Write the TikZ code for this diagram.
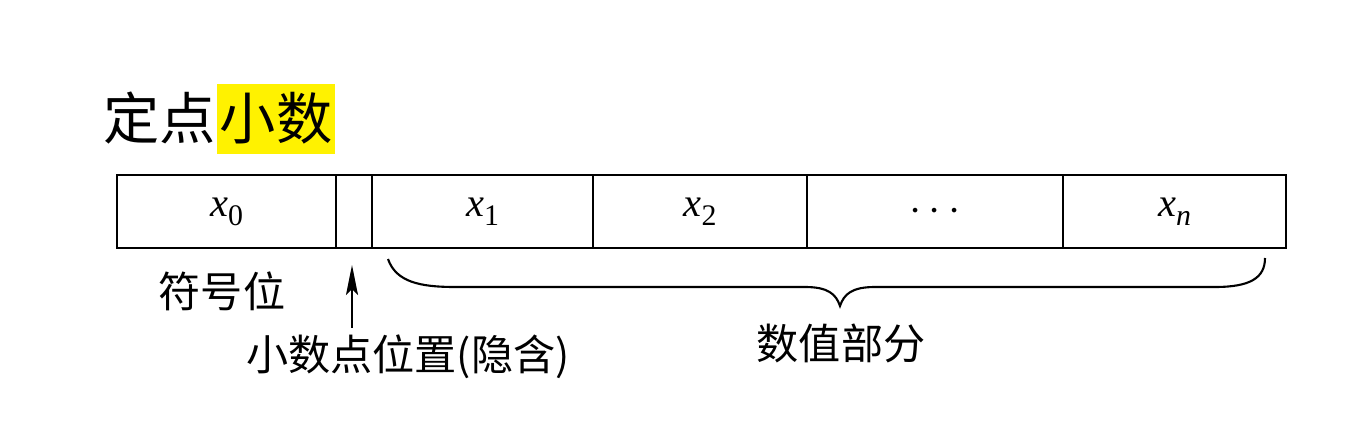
\documentclass[tikz,border=0pt]{standalone}
\usepackage{fontspec}
\setmainfont{Liberation Serif}
\newfontfamily\cjk{Noto Sans CJK SC}
\usetikzlibrary{arrows.meta}
\newcommand{\xsub}[1]{\textit{x}\raisebox{-0.5ex}{\fontsize{17}{17}\selectfont #1}}
\tikzset{
  x=0.02cm, y=-0.02cm,
  cell/.style={draw, line width=1.2pt, minimum height=1.46cm, anchor=north west, inner sep=0pt, font=\fontsize{23}{23}\selectfont},
  lbl/.style={font=\cjk\fontsize{24}{24}\selectfont, inner sep=0pt},
  ttl/.style={font=\cjk\fontsize{32}{32}\selectfont, inner sep=0pt},
  conn/.style={line width=1.2pt}
}
\begin{document}
\begin{tikzpicture}
\useasboundingbox (0,0) rectangle (1370,432);
% title
\node[fill=yellow, minimum width=2.36cm, minimum height=1.42cm, inner sep=0pt] (hl) at (276,119) {};
\node[ttl, anchor=base west] (t1) at (103,140) {定点};
\node[ttl, anchor=base] (t2) at (hl.center |- t1.base) {小数};
% cells
\node[cell, minimum width=4.38cm] (c0) at (116,174) {\xsub{0}};
\node[cell, minimum width=0.72cm] (cp) at (335,174) {};
\node[cell, minimum width=4.42cm] (c1) at (371,174) {\xsub{1}};
\node[cell, minimum width=4.28cm] (c2) at (592,174) {\xsub{2}};
\node[cell, minimum width=5.12cm] (c3) at (806,174) {\fontsize{28}{28}\selectfont$\cdots$};
\node[cell, minimum width=4.46cm] (cn) at (1062,174) {\xsub{\textit{n}}};
% labels
\node[lbl] (sign) at (222,291) {符号位};
\node[lbl] (point) at (408,357) {小数点位置(隐含)};
\node[lbl] (mag) at (841,343) {数值部分};
% arrow
\coordinate (atail) at (352,328);
\coordinate (ahead) at (352,265);
\draw[conn, -{Stealth[length=0.6cm,width=0.24cm,inset=0.12cm]}] (atail) -- (ahead);
% brace
\coordinate (bl) at (388,259);
\coordinate (bt) at (840,306);
\coordinate (br) at (1265,258);
\draw[conn] (bl) .. controls (396,282) and (420,287) .. (455,287)
  -- (805,287) .. controls (828,287) and (836,294) .. (bt)
  .. controls (844,294) and (852,287) .. (875,287)
  -- (1215,287) .. controls (1250,287) and (1265,278) .. (br);
\end{tikzpicture}
\end{document}
